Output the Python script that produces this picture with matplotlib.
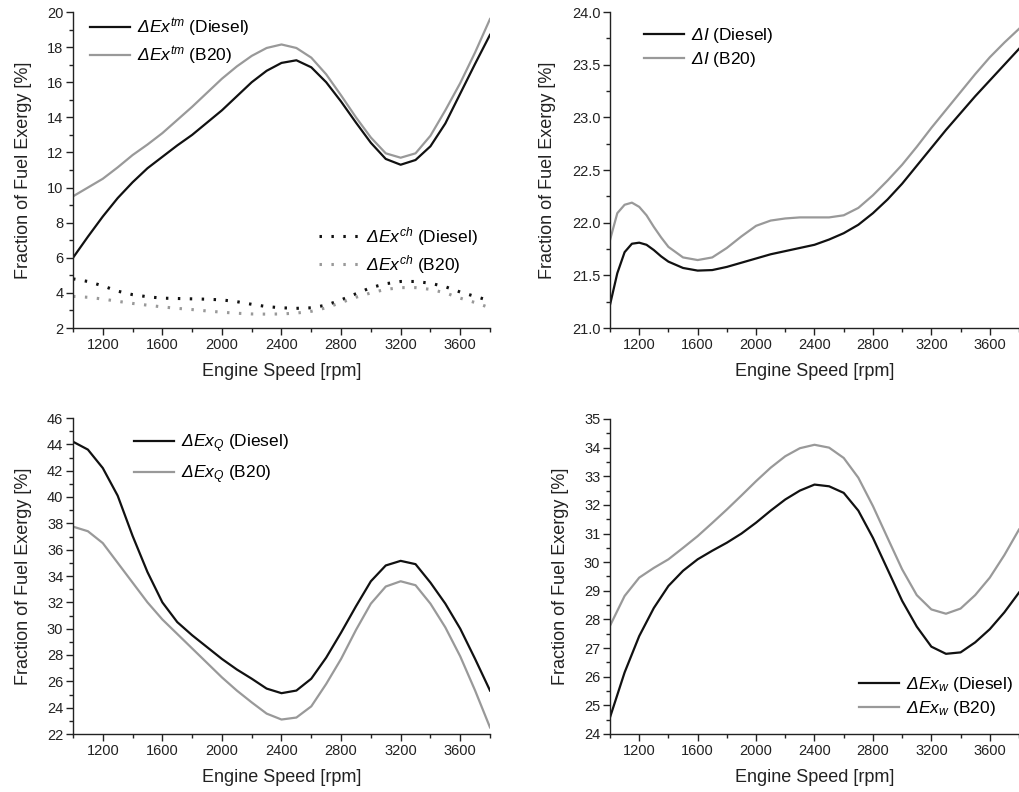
import matplotlib
matplotlib.use("Agg")
import matplotlib.pyplot as plt
from matplotlib.ticker import MultipleLocator, FixedLocator

plt.rcParams['font.family'] = ['Liberation Sans', 'DejaVu Sans']
plt.rcParams['mathtext.fontset'] = 'custom'
plt.rcParams['mathtext.rm'] = 'Liberation Sans:italic'
plt.rcParams['mathtext.it'] = 'Liberation Sans:italic'
plt.rcParams['mathtext.bf'] = 'Liberation Sans:bold'

# ---------------- data ----------------
rpm = [1000, 1100, 1200, 1300, 1400, 1500, 1600, 1700, 1800, 1900, 2000, 2100, 2200, 2300,
       2400, 2500, 2600, 2700, 2800, 2900, 3000, 3100, 3200, 3300, 3400, 3500, 3600, 3700, 3800]

extm_diesel = [6.0, 7.2, 8.35, 9.4, 10.3, 11.1, 11.75, 12.4, 13.0, 13.7, 14.4, 15.2, 16.0, 16.65,
               17.1, 17.25, 16.85, 16.0, 14.9, 13.7, 12.55, 11.63, 11.3, 11.57, 12.35, 13.65, 15.35, 17.05, 18.7]
extm_b20 = [9.5, 10.0, 10.5, 11.15, 11.85, 12.45, 13.1, 13.85, 14.6, 15.4, 16.2, 16.9, 17.5, 17.95,
            18.15, 17.95, 17.4, 16.45, 15.25, 14.0, 12.85, 11.95, 11.7, 11.95, 12.95, 14.4, 15.95, 17.7, 19.6]
exch_diesel = [4.8, 4.65, 4.4, 4.1, 3.9, 3.78, 3.7, 3.68, 3.66, 3.64, 3.6, 3.5, 3.35, 3.22,
               3.15, 3.12, 3.15, 3.3, 3.6, 3.95, 4.3, 4.52, 4.65, 4.65, 4.55, 4.35, 4.05, 3.8, 3.55]
exch_b20 = [3.8, 3.75, 3.65, 3.52, 3.4, 3.3, 3.2, 3.12, 3.05, 2.97, 2.9, 2.84, 2.8, 2.79,
            2.8, 2.85, 2.95, 3.15, 3.45, 3.75, 4.0, 4.2, 4.3, 4.3, 4.2, 4.0, 3.7, 3.45, 3.15]

rpm_irr = [1000, 1050, 1100, 1150, 1200, 1250, 1300, 1350, 1400, 1500, 1600, 1700, 1800, 1900, 2000,
           2100, 2200, 2300, 2400, 2500, 2600, 2700, 2800, 2900, 3000, 3100, 3200, 3300, 3400, 3500,
           3600, 3700, 3800]
irr_diesel = [21.22, 21.52, 21.72, 21.80, 21.81, 21.79, 21.74, 21.68, 21.63, 21.57, 21.545, 21.55, 21.58,
              21.62, 21.66, 21.7, 21.73, 21.76, 21.79, 21.84, 21.9, 21.98, 22.09, 22.22, 22.37, 22.54,
              22.71, 22.88, 23.04, 23.2, 23.35, 23.5, 23.65]
irr_b20 = [21.835, 22.09, 22.17, 22.19, 22.15, 22.07, 21.96, 21.86, 21.77, 21.67, 21.645, 21.67, 21.76,
           21.87, 21.97, 22.02, 22.04, 22.05, 22.05, 22.05, 22.07, 22.14, 22.26, 22.4, 22.55, 22.72,
           22.9, 23.07, 23.24, 23.41, 23.57, 23.71, 23.84]

exq_diesel = [44.2, 43.6, 42.2, 40.1, 37.05, 34.3, 32.0, 30.5, 29.5, 28.6, 27.7, 26.9, 26.2, 25.45,
              25.1, 25.3, 26.2, 27.8, 29.7, 31.7, 33.6, 34.8, 35.15, 34.9, 33.5, 31.9, 30.0, 27.7, 25.3]
exq_b20 = [37.75, 37.4, 36.5, 35.0, 33.5, 32.0, 30.7, 29.6, 28.5, 27.4, 26.3, 25.3, 24.4, 23.55,
           23.1, 23.25, 24.1, 25.8, 27.7, 29.9, 31.9, 33.2, 33.6, 33.3, 31.9, 30.1, 27.9, 25.3, 22.5]

exw_diesel = [24.58, 26.15, 27.42, 28.4, 29.17, 29.7, 30.1, 30.4, 30.68, 31.0, 31.38, 31.8, 32.19, 32.5,
              32.71, 32.65, 32.42, 31.8, 30.85, 29.75, 28.65, 27.75, 27.05, 26.8, 26.85, 27.2, 27.66, 28.25, 28.94]
exw_b20 = [27.78, 28.82, 29.46, 29.8, 30.1, 30.5, 30.91, 31.37, 31.84, 32.33, 32.83, 33.3, 33.7, 33.98,
           34.1, 34.0, 33.64, 32.95, 31.96, 30.85, 29.75, 28.85, 28.35, 28.2, 28.38, 28.85, 29.46, 30.25, 31.14]

xlabel = "Engine Speed [rpm]"
ylabel = "Fraction of Fuel Exergy [%]"

BLACK = '#111111'
GRAY = '#999999'
LW = 1.6
DOTS = (0, (0.8, 3.1))

fig = plt.figure(figsize=(10.2, 7.92), dpi=100)
W, H = 1020, 792

def make_ax(l, r, t, b):
    return fig.add_axes([l / W, 1 - b / H, (r - l) / W, (b - t) / H])

def style(ax, ylim, ymaj, ymin, yfmt=None):
    ax.set_xlim(1000, 3800)
    ax.set_ylim(*ylim)
    ax.xaxis.set_major_locator(FixedLocator([1200, 1600, 2000, 2400, 2800, 3200, 3600]))
    ax.xaxis.set_minor_locator(FixedLocator([1000, 1400, 1800, 2200, 2600, 3000, 3400, 3800]))
    ax.yaxis.set_major_locator(MultipleLocator(ymaj))
    ax.yaxis.set_minor_locator(MultipleLocator(ymin))
    if yfmt:
        ax.yaxis.set_major_formatter(yfmt)
    for s in ['top', 'right']:
        ax.spines[s].set_visible(False)
    for s in ['left', 'bottom']:
        ax.spines[s].set_linewidth(1.0)
        ax.spines[s].set_color('#222222')
    ax.tick_params(which='major', direction='out', length=5, width=1.0, labelsize=10.5, colors='#222222', pad=2)
    ax.tick_params(which='minor', direction='out', length=3, width=1.0, colors='#222222')
    ax.set_xlabel(xlabel, fontsize=13, labelpad=8, color='#222222')
    ax.set_ylabel(ylabel, fontsize=13, labelpad=11, color='#222222')

LEG = dict(frameon=False, fontsize=12.5, handlelength=2.3, handletextpad=0.4, labelspacing=0.3)

def lines(ax, x, a, b):
    p, = ax.plot(x, a, color=BLACK, lw=LW, solid_joinstyle='round')
    q, = ax.plot(x, b, color=GRAY, lw=LW, solid_joinstyle='round')
    return p, q

# Panel 1
ax1 = make_ax(73, 490, 12, 328)
l1, l2 = lines(ax1, rpm, extm_diesel, extm_b20)
l3, = ax1.plot(rpm, exch_diesel, color=BLACK, lw=2.2, ls=DOTS)
l4, = ax1.plot(rpm, exch_b20, color=GRAY, lw=2.2, ls=DOTS)
style(ax1, (2, 20), 2, 1)
leg1 = ax1.legend([l1, l2], [r'$ΔEx^{tm}$ (Diesel)', r'$ΔEx^{tm}$ (B20)'],
                  loc='upper left', bbox_to_anchor=(0.003, 1.035), **LEG)
ax1.add_artist(leg1)
ax1.legend([l3, l4], [r'$ΔEx^{ch}$ (Diesel)', r'$ΔEx^{ch}$ (B20)'],
           loc='center right', bbox_to_anchor=(1.009, 0.245), **LEG)

# Panel 2
ax2 = make_ax(610, 1019, 12, 328)
m1, m2 = lines(ax2, rpm_irr, irr_diesel, irr_b20)
style(ax2, (21.0, 24.0), 0.5, 0.25, yfmt='{x:.1f}')
ax2.legend([m1, m2], [r'$ΔI$ (Diesel)', r'$ΔI$ (B20)'],
           loc='upper left', bbox_to_anchor=(0.045, 1.005), **LEG)

# Panel 3
ax3 = make_ax(73, 490, 418, 734)
n1, n2 = lines(ax3, rpm, exq_diesel, exq_b20)
style(ax3, (22, 46), 2, 1)
ax3.legend([n1, n2], [r'$ΔEx_{Q}$ (Diesel)', r'$ΔEx_{Q}$ (B20)'],
           loc='upper left', bbox_to_anchor=(0.108, 1.005), frameon=False, fontsize=12.5,
           handlelength=2.3, handletextpad=0.4, labelspacing=0.5)

# Panel 4
ax4 = make_ax(610, 1019, 419, 734)
p1, p2 = lines(ax4, rpm, exw_diesel, exw_b20)
style(ax4, (24, 35), 1, 0.5)
ax4.legend([p1, p2], [r'$ΔEx_{w}$ (Diesel)', r'$ΔEx_{w}$ (B20)'],
           loc='lower right', bbox_to_anchor=(1.024, 0.0), **LEG)

fig.savefig('out.png', dpi=100, facecolor='white')
